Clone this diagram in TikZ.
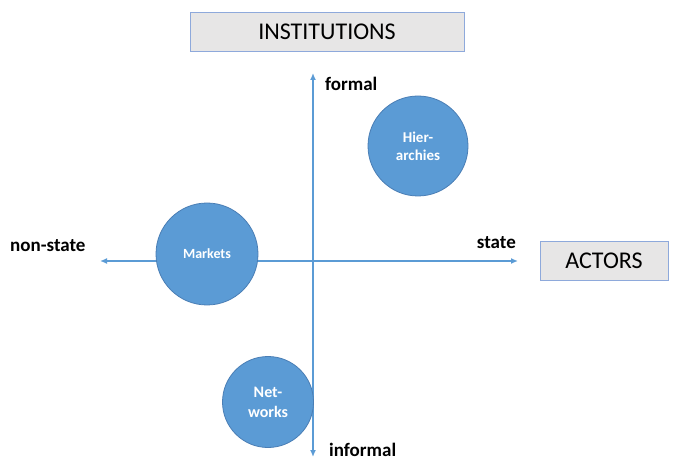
\documentclass[tikz,border=0pt]{standalone}
\usepackage{fontspec}
\setmainfont{Carlito}
\usetikzlibrary{arrows.meta}
\definecolor{axisblue}{HTML}{5B9BD5}
\definecolor{circleline}{HTML}{4A7EB5}
\definecolor{boxgray}{HTML}{E7E6E6}
\definecolor{boxline}{HTML}{8EA9DB}
\begin{document}
\begin{tikzpicture}[x = 1pt, y = -1pt,
        axis/.style = {draw = axisblue, line width = 1.4pt, {Latex[length=7pt,width=6pt]}-{Latex[length=7pt,width=6pt]}},
        blob/.style = {circle, fill = axisblue, draw = circleline, line width = 0.8pt, text = white, align = center, inner sep = 0pt, font = \bfseries},
        axislabel/.style = {font = \fontsize{19}{22}\selectfont\bfseries, inner sep = 0pt},
        bigbox/.style = {draw = boxline, fill = boxgray, line width = 1pt, minimum height = 39pt, font = \fontsize{24}{28}\selectfont}]
        \useasboundingbox (0,0) rectangle (674,462);

        % axis ends
        \coordinate (top)    at (313, 73);
        \coordinate (bottom) at (313,457);
        \coordinate (left)   at (100,261);
        \coordinate (right)  at (518,261);

        \draw[axis] (bottom) -- (top);
        \draw[axis] (left) -- (right);

        % axis titles
        \node[bigbox, minimum width = 274pt] (inst)  at (327, 32) {INSTITUTIONS};
        \node[bigbox, minimum width = 128pt] (actor) at (604,261) {ACTORS};

        % axis labels
        \node[axislabel, anchor = west] (formal)   at (325, 84) {formal};
        \node[axislabel, anchor = west] (informal) at (329,450) {informal};
        \node[axislabel, anchor = west] (nonstate) at ( 10,246) {non-state};
        \node[axislabel, anchor = east] (state)    at (516,243) {state};

        % modes of governance
        \node[blob, minimum size = 100pt, font = \fontsize{15}{18}\selectfont\bfseries] (hier) at (418,146) {Hier-\\archies};
        \node[blob, minimum size = 102pt, font = \fontsize{14}{16}\selectfont\bfseries] (mkt)  at (207,254) {Markets};
        \node[blob, minimum size = 91pt,  font = \fontsize{16}{20}\selectfont\bfseries] (net)  at (268,402) {Net-\\works};
    \end{tikzpicture}
\end{document}
